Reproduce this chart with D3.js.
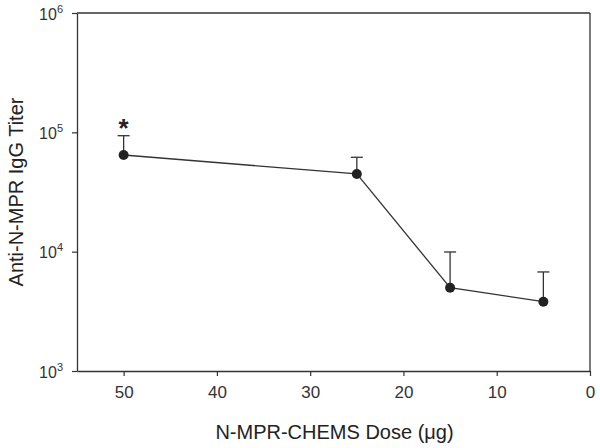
<!DOCTYPE html>
<html><head><meta charset="utf-8">
<script src="https://cdn.jsdelivr.net/npm/d3@7"></script>
<style>body{margin:0;background:#fff}svg{display:block}text{font-family:"Liberation Sans",Arial,sans-serif}</style>
</head><body><svg id="c" width="600" height="448"></svg>
<script>
const doses = [50, 25, 15, 5];
const titers = [64600, 44800, 4990, 3810];
const errUpper = [93700, 61800, 9940, 6760];
const xTicks = [50, 40, 30, 20, 10, 0];
const yTicks = [3, 4, 5, 6];
const sigMarks = ["*", "", "", ""];
const xTitle = "N-MPR-CHEMS Dose (\u03BCg)";
const yTitle = "Anti-N-MPR IgG Titer";

const svg = d3.select("#c");
const L = 77, R = 590, T = 13, B = 371;
const x = d3.scaleLinear().domain([55, 0]).range([L, R]);
const y = d3.scaleLog().domain([1e3, 1e6]).range([B, T]);
const ink = "#222";

// frame top/right
svg.append("line").attr("x1", L).attr("x2", R).attr("y1", T).attr("y2", T).attr("stroke", "#333").attr("stroke-width", 1.3);
svg.append("line").attr("x1", R).attr("x2", R).attr("y1", T).attr("y2", B).attr("stroke", "#333").attr("stroke-width", 1.3);

// x axis
const xa = svg.append("g").attr("transform", `translate(0,${B})`)
  .call(d3.axisBottom(x).tickValues(xTicks).tickSize(5).tickSizeOuter(0).tickPadding(10).tickFormat(d3.format("d")));
xa.select(".domain").attr("stroke", "#333").attr("stroke-width", 1.3);
xa.selectAll(".tick line").attr("stroke", "#333").attr("stroke-width", 1.2);
xa.selectAll("text").attr("font-size", 17).attr("fill", "#333").attr("font-family", "Liberation Sans, Arial, sans-serif");

// y axis
const ya = svg.append("g").attr("transform", `translate(${L},0)`)
  .call(d3.axisLeft(y).tickValues(yTicks.map(e => Math.pow(10, e))).tickSize(5).tickSizeOuter(0).tickFormat(""));
ya.select(".domain").attr("stroke", "#333").attr("stroke-width", 1.3);
ya.selectAll(".tick line").attr("stroke", "#333").attr("stroke-width", 1.2);
ya.selectAll(".tick").each(function(d) {
  const t = d3.select(this).append("text").attr("x", -14).attr("y", 6)
    .attr("text-anchor", "end").attr("fill", "#333").attr("font-size", 16);
  t.append("tspan").text("10");
  t.append("tspan").attr("dy", -7).attr("font-size", 11).text(Math.round(Math.log10(d)));
});

// line
const pts = doses.map((d, i) => ({d, v: titers[i], e: errUpper[i], s: sigMarks[i]}));
svg.append("path").datum(pts)
  .attr("d", d3.line().x(p => x(p.d)).y(p => y(p.v)))
  .attr("fill", "none").attr("stroke", "#333").attr("stroke-width", 1.3);

// error bars
const eb = svg.append("g").selectAll("g").data(pts).join("g");
eb.append("line").attr("x1", p => x(p.d)).attr("x2", p => x(p.d))
  .attr("y1", p => y(p.v)).attr("y2", p => y(p.e)).attr("stroke", "#333").attr("stroke-width", 1.3);
eb.append("line").attr("x1", p => x(p.d) - 6).attr("x2", p => x(p.d) + 6)
  .attr("y1", p => y(p.e)).attr("y2", p => y(p.e)).attr("stroke", "#333").attr("stroke-width", 1.3);

// points
svg.append("g").selectAll("circle").data(pts).join("circle")
  .attr("cx", p => x(p.d)).attr("cy", p => y(p.v)).attr("r", 5).attr("fill", ink);

// significance
svg.append("g").selectAll("text").data(pts.filter(p => p.s)).join("text")
  .attr("x", p => x(p.d)).attr("y", p => y(p.e) + 1).attr("text-anchor", "middle")
  .attr("font-size", 26).attr("font-weight", "bold").attr("fill", ink).text(p => p.s);

// titles
svg.append("text").attr("x", (L + R) / 2 + 1).attr("y", 439).attr("text-anchor", "middle")
  .attr("font-size", 20).attr("fill", ink).text(xTitle);
svg.append("text").attr("transform", "translate(23,192) rotate(-90)").attr("text-anchor", "middle")
  .attr("font-size", 20).attr("fill", ink).text(yTitle);
</script></body></html>
